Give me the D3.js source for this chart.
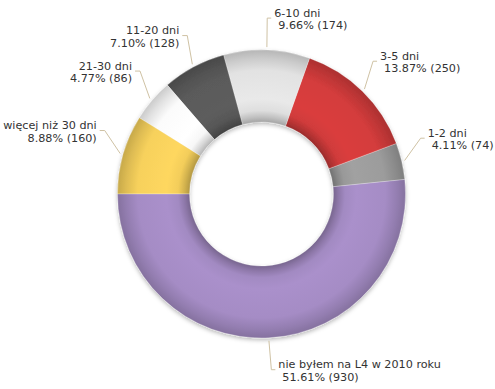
<!DOCTYPE html>
<meta charset="utf-8">
<title>L4 w 2010</title>
<script src="https://cdn.jsdelivr.net/npm/d3@7"></script>
<style>
  body { margin: 0; background: #fff; }
  text { font-family: "DejaVu Sans", Verdana, sans-serif; font-size: 11.2px; fill: #333; }
</style>
<div id="chart"></div>
<script>
// data
var categories = ["1-2 dni", "3-5 dni", "6-10 dni", "11-20 dni", "21-30 dni", "więcej niż 30 dni", "nie byłem na L4 w 2010 roku"];
var counts = [74, 250, 174, 128, 86, 160, 930];
var colors = ["#9c9c9c", "#d43c3c", "#e2e2e2", "#5a5a5a", "#fbfbfb", "#f7d15c", "#a58cc5"];

var width = 495, height = 389;
var cx = 261.5, cy = 194;
var outerR = 144, innerR = 72;

var total = d3.sum(counts);
var rows = categories.map(function(c, i) {
  return {name: c, value: counts[i], color: colors[i], pct: (counts[i] / total * 100).toFixed(2)};
});

var svg = d3.select("#chart").append("svg")
    .attr("width", width)
    .attr("height", height);

var defs = svg.append("defs");

// soft shadow under the ring
var f = defs.append("filter").attr("id", "shadow")
    .attr("x", "-10%").attr("y", "-10%").attr("width", "120%").attr("height", "125%");
f.append("feDropShadow").attr("dx", 0).attr("dy", 2).attr("stdDeviation", 2)
    .attr("flood-color", "#000").attr("flood-opacity", 0.28);

// tube-like shading for each slice (centre is the ring's own origin)
rows.forEach(function(d, i) {
  var c = d3.color(d.color);
  var g = defs.append("radialGradient")
      .attr("id", "grad" + i)
      .attr("gradientUnits", "userSpaceOnUse")
      .attr("cx", 0).attr("cy", 0).attr("r", outerR);
  var stops = [
    [0.50, c.darker(0.9)],
    [0.535, c.darker(0.45)],
    [0.58, c.darker(0.05)],
    [0.66, c.brighter(0.08)],
    [0.86, c],
    [0.94, c.darker(0.3)],
    [1.0, c.darker(0.6)]
  ];
  stops.forEach(function(s) {
    g.append("stop").attr("offset", s[0]).attr("stop-color", s[1].formatHex());
  });
});

// first slice sits just above 3 o'clock, slices run counter-clockwise,
// the last one closes at 9 o'clock
var restShare = 1 - counts[counts.length - 1] / total;
var a0 = -Math.PI / 2 + 2 * Math.PI * restShare;

var pie = d3.pie()
    .sort(null)
    .value(function(d) { return d.value; })
    .startAngle(a0)
    .endAngle(a0 - 2 * Math.PI);

var arc = d3.arc().innerRadius(innerR).outerRadius(outerR);

var arcs = pie(rows);

var ring = svg.append("g")
    .attr("transform", "translate(" + cx + "," + cy + ")")
    .attr("filter", "url(#shadow)");

ring.selectAll("path")
  .data(arcs)
  .enter()
  .append("path")
    .attr("d", arc)
    .attr("fill", function(d, i) { return "url(#grad" + i + ")"; })
    .attr("stroke", "rgba(255,255,255,0.45)")
    .attr("stroke-width", 0.6);

// labels with leader lines
var labels = svg.append("g")
    .attr("transform", "translate(" + cx + "," + cy + ")");

function pt(a, r) { return [Math.sin(a) * r, -Math.cos(a) * r]; }

arcs.forEach(function(d) {
  var mid = (d.startAngle + d.endAngle) / 2;
  var p0 = pt(mid, outerR + 3);
  var e = mid - 0.11 * Math.sin(mid);
  var p1 = pt(e, 165 + 11 * Math.abs(Math.cos(e)));
  var right = p1[0] > 0;
  var p2 = [p1[0] + (right ? 4 : -5), p1[1]];

  labels.append("polyline")
      .attr("points", [p0, p1, p2].map(function(p) { return p.join(","); }).join(" "))
      .attr("fill", "none")
      .attr("stroke", "#cfc2a4")
      .attr("stroke-width", 1);

  var t = labels.append("text")
      .attr("text-anchor", right ? "start" : "end");
  var tx = p2[0] + (right ? 3 : -3);
  t.append("tspan")
      .attr("x", tx)
      .attr("y", p1[1] - 1.5)
      .text(d.data.name);
  t.append("tspan")
      .attr("x", right ? tx + 4 : tx)
      .attr("y", p1[1] + 11)
      .text(d.data.pct + "% (" + d.data.value + ")");
});
</script>
